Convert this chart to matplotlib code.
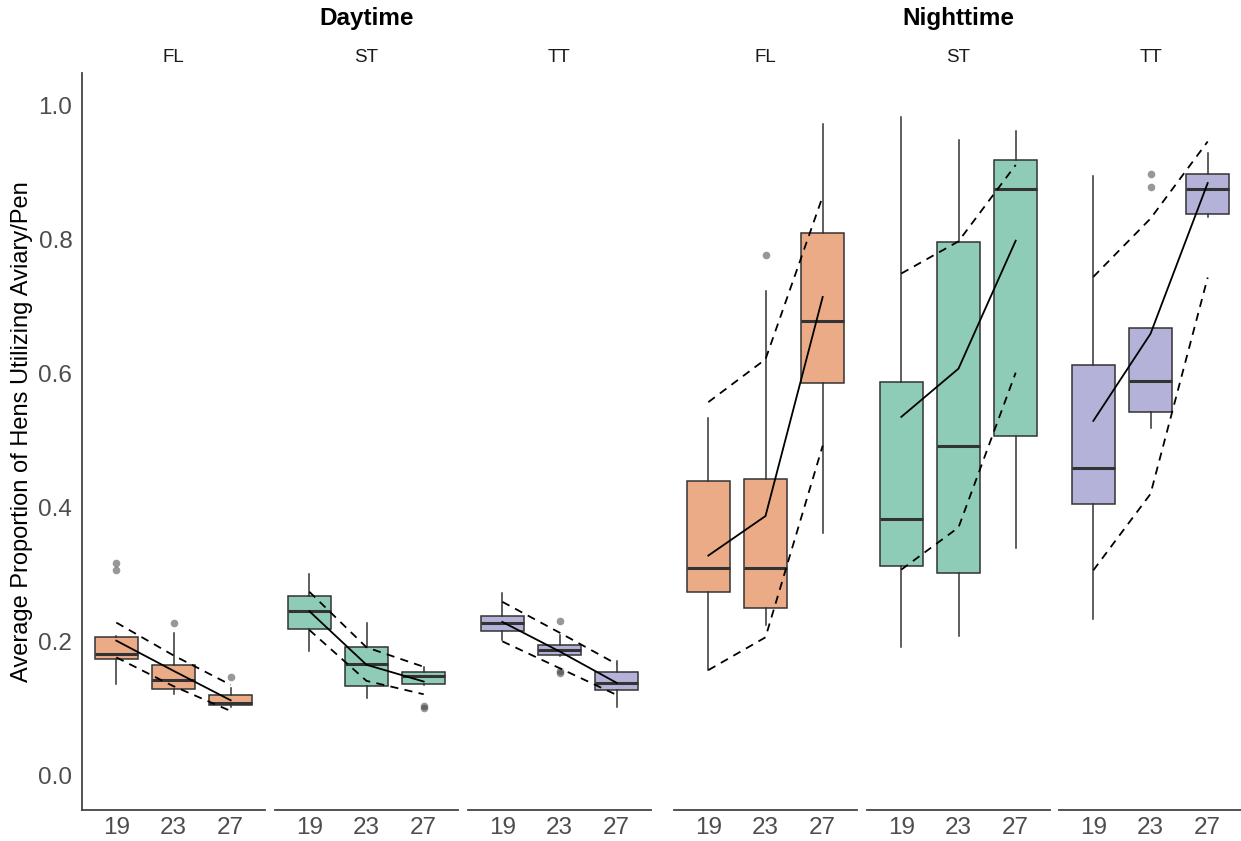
import numpy as np
import matplotlib.pyplot as plt

plt.rcParams['font.family'] = ['Liberation Sans', 'DejaVu Sans']

periods = ['Daytime', 'Nighttime']
systems = ['FL', 'ST', 'TT']
ages = ['19', '23', '27']

# one row per panel: Day FL, Day ST, Day TT, Night FL, Night ST, Night TT
whisker_lo = [
    [0.138, 0.123, 0.103],
    [0.186, 0.117, 0.136],
    [0.203, 0.179, 0.103],
    [0.158, 0.225, 0.363],
    [0.192, 0.209, 0.341],
    [0.234, 0.519, 0.835],
]
box_q1 = [
    [0.175, 0.130, 0.106],
    [0.219, 0.134, 0.138],
    [0.217, 0.181, 0.129],
    [0.274, 0.251, 0.587],
    [0.314, 0.303, 0.507],
    [0.406, 0.543, 0.839],
]
box_median = [
    [0.182, 0.143, 0.109],
    [0.246, 0.167, 0.149],
    [0.228, 0.188, 0.139],
    [0.311, 0.311, 0.679],
    [0.384, 0.493, 0.876],
    [0.459, 0.590, 0.876],
]
box_q3 = [
    [0.207, 0.166, 0.121],
    [0.269, 0.192, 0.155],
    [0.239, 0.195, 0.155],
    [0.440, 0.443, 0.811],
    [0.588, 0.797, 0.920],
    [0.613, 0.668, 0.899],
]
whisker_hi = [
    [0.209, 0.214, 0.131],
    [0.301, 0.229, 0.162],
    [0.273, 0.210, 0.172],
    [0.534, 0.724, 0.973],
    [0.983, 0.950, 0.963],
    [0.896, 0.668, 0.930],
]
outliers = [
    [[0.318, 0.308], [0.229], [0.148]],
    [[], [], [0.105, 0.102]],
    [[], [0.231, 0.156, 0.154], []],
    [[], [0.777], []],
    [[], [], []],
    [[], [0.898, 0.879], []],
]
mean_prop = [
    [0.202, 0.157, 0.113],
    [0.246, 0.166, 0.141],
    [0.230, 0.186, 0.139],
    [0.329, 0.388, 0.715],
    [0.536, 0.608, 0.799],
    [0.530, 0.660, 0.885],
]
ci_upper = [
    [0.229, 0.180, 0.136],
    [0.275, 0.192, 0.163],
    [0.260, 0.214, 0.167],
    [0.558, 0.622, 0.865],
    [0.750, 0.798, 0.912],
    [0.745, 0.832, 0.947],
]
ci_lower = [
    [0.177, 0.134, 0.097],
    [0.218, 0.142, 0.122],
    [0.201, 0.161, 0.121],
    [0.158, 0.207, 0.493],
    [0.308, 0.371, 0.602],
    [0.307, 0.421, 0.744],
]

fill_colors = {'FL': '#EBAB87', 'ST': '#8FCCB7', 'TT': '#B4B2D8'}
dark = '#333333'
tick_gray = '#4D4D4D'

W, H = 1241, 841
fig = plt.figure(figsize=(W / 100, H / 100), dpi=100)

panel_left = [82, 275, 468, 674, 867, 1059]
panel_w = 183
ax_bottom, ax_top = 809.5, 72.5

pos = np.arange(1, len(ages) + 1)
axes = []
for i, left in enumerate(panel_left):
    ax = fig.add_axes([left / W, (H - ax_bottom) / H, panel_w / W, (ax_bottom - ax_top) / H])
    axes.append(ax)
    system = systems[i % 3]

    stats = []
    for j in range(len(ages)):
        stats.append({
            'whislo': whisker_lo[i][j], 'q1': box_q1[i][j], 'med': box_median[i][j],
            'q3': box_q3[i][j], 'whishi': whisker_hi[i][j], 'fliers': outliers[i][j],
        })
    ax.bxp(stats, positions=pos, widths=0.75, patch_artist=True, showcaps=False,
           boxprops=dict(facecolor=fill_colors[system], edgecolor=dark, linewidth=1.1),
           medianprops=dict(color=dark, linewidth=2.2, solid_capstyle='butt'),
           whiskerprops=dict(color=dark, linewidth=1.1),
           flierprops=dict(marker='o', markerfacecolor=dark, markeredgecolor='none',
                           alpha=0.5, markersize=5.5))

    # mean trend and its confidence band
    ax.plot(pos, mean_prop[i], color='black', linewidth=1.3, zorder=5)
    ax.plot(pos, ci_upper[i], color='black', linewidth=1.3, linestyle=(0, (4.5, 3.5)), zorder=5)
    ax.plot(pos, ci_lower[i], color='black', linewidth=1.3, linestyle=(0, (4.5, 3.5)), zorder=5)

    ax.set_xlim(0.4, 3.6)
    ax.set_ylim(-0.05, 1.05)
    ax.set_xticks(pos)
    ax.set_xticklabels(ages)
    ax.tick_params(axis='x', length=0, pad=5.5, labelsize=17.5, labelcolor=tick_gray)

    for side in ['top', 'right']:
        ax.spines[side].set_visible(False)
    ax.spines['bottom'].set_color('#444444')
    ax.spines['bottom'].set_linewidth(1.3)

    if i == 0:
        ax.spines['left'].set_color('#444444')
        ax.spines['left'].set_linewidth(1.3)
        ax.set_yticks([0.0, 0.2, 0.4, 0.6, 0.8, 1.0])
        ax.set_yticklabels(['0.0', '0.2', '0.4', '0.6', '0.8', '1.0'])
        ax.tick_params(axis='y', length=0, pad=7, labelsize=17.5, labelcolor=tick_gray)
    else:
        ax.spines['left'].set_visible(False)
        ax.set_yticks([])

    # facet strip label
    fig.text((left + panel_w / 2) / W, 1 - 57 / H, system, ha='center', va='center',
             fontsize=13.5, color='#1A1A1A')

for k, period in enumerate(periods):
    mid = panel_left[3 * k + 1] + panel_w / 2
    fig.text(mid / W, 1 - 18 / H, period, ha='center', va='center',
             fontsize=17.5, fontweight='bold', color='black')

fig.text(22 / W, 1 - 432 / H, 'Average Proportion of Hens Utilizing Aviary/Pen',
         rotation=90, ha='center', va='center', fontsize=17, color='black')

fig.savefig('out.png', dpi=100, facecolor='white')
